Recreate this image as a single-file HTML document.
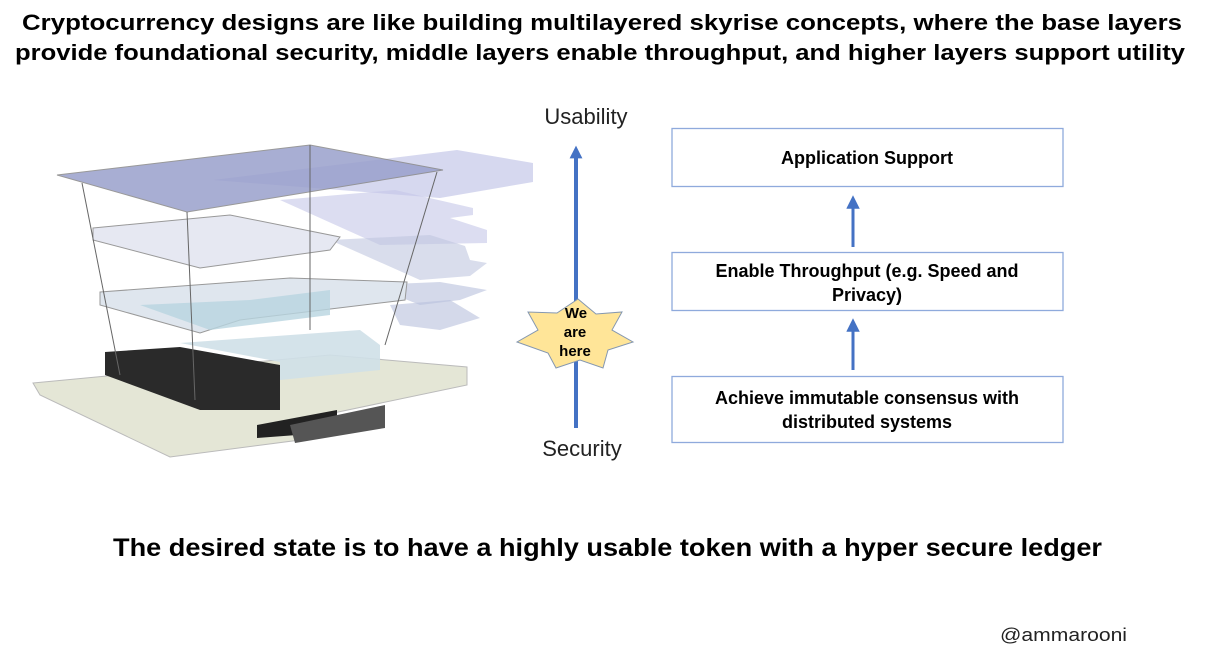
<!DOCTYPE html>
<html><head><meta charset="utf-8"><style>html,body{margin:0;padding:0;background:#fff}svg{display:block}</style></head>
<body>
<svg width="1210" height="660" xmlns="http://www.w3.org/2000/svg" font-family="Liberation Sans, sans-serif">
<defs>
<marker id="ah" viewBox="0 0 10 10" refX="5" refY="5" markerWidth="3.6" markerHeight="3.2" orient="auto"><path d="M0,0 L10,5 L0,10 z" fill="#4472c4"/></marker>
<marker id="ah2" viewBox="0 0 10 10" refX="5" refY="5" markerWidth="5" markerHeight="4.5" orient="auto"><path d="M0,0 L10,5 L0,10 z" fill="#4472c4"/></marker>
</defs>
<g font-weight="bold" font-size="22" fill="#000">
<text x="22" y="30" textLength="1160" lengthAdjust="spacingAndGlyphs">Cryptocurrency designs are like building multilayered skyrise concepts, where the base layers</text>
<text x="15" y="60" textLength="1170" lengthAdjust="spacingAndGlyphs">provide foundational security, middle layers enable throughput, and higher layers support utility</text>
<text x="113" y="556" font-size="25" textLength="989" lengthAdjust="spacingAndGlyphs">The desired state is to have a highly usable token with a hyper secure ledger</text>
</g>
<text x="1000" y="641" font-size="18" fill="#222" textLength="127" lengthAdjust="spacingAndGlyphs">@ammarooni</text>

<!-- building -->
<g>
<polygon points="213,180 457,150 533,163 533,182 440,198" fill="#c4c7e8" opacity="0.7"/>
<polygon points="280,200 395,190 473,208 473,215 450,218 487,230 487,243 380,245" fill="#c4c7e8" opacity="0.6"/>
<polygon points="330,240 430,235 465,246 470,260 487,263 470,276 420,280" fill="#c0c6e0" opacity="0.6"/>
<polygon points="370,285 440,282 487,290 460,300 420,305" fill="#b8c0dc" opacity="0.6"/>
<polygon points="390,305 450,300 480,318 440,330 400,325" fill="#b8c0dc" opacity="0.6"/>
<polygon points="33,383 330,355 467,367 467,385 300,420 300,440 170,457 40,395" fill="#e4e6d6" stroke="#bbb"/>
<polygon points="100,292 290,278 407,282 405,300 240,320 200,333 100,305" fill="#dfe6ee" stroke="#999"/>
<polygon points="140,305 250,300 330,290 330,315 210,330" fill="#b8d4e0" opacity="0.8"/>
<polygon points="93,228 230,215 340,237 330,250 200,268 93,240" fill="#e6e8f2" stroke="#999"/>
<polygon points="105,352 180,347 280,365 280,410 200,410 105,375" fill="#2a2a2a"/>
<polygon points="180,343 360,330 380,345 380,370 280,380 280,362" fill="#cfe0e8" opacity="0.9"/>
<polygon points="257,425 337,410 337,432 257,438" fill="#222"/>
<polygon points="290,425 385,405 385,428 295,443" fill="#555"/>
<polygon points="57,175 310,145 443,170 187,212" fill="#9aa0cc" opacity="0.85" stroke="#888"/>
<polyline points="82,183 120,375" fill="none" stroke="#666" stroke-width="1"/>
<polyline points="310,145 310,330" fill="none" stroke="#666" stroke-width="1"/>
<polyline points="437,172 385,345" fill="none" stroke="#666" stroke-width="1"/>
<polyline points="187,212 195,400" fill="none" stroke="#666" stroke-width="1"/>
</g>

<!-- axis arrow -->
<line x1="576" y1="428" x2="576" y2="152" stroke="#4472c4" stroke-width="4" marker-end="url(#ah)"/>
<text x="586" y="124" font-size="22" text-anchor="middle" fill="#222">Usability</text>
<text x="582" y="456" font-size="22" text-anchor="middle" fill="#222">Security</text>
<polygon points="578,299 596,314 622,312 612,330 633,342 608,350 603,368 580,360 556,368 548,353 517,342 538,330 528,312 557,313" fill="#ffe598" stroke="#8497b0" stroke-width="1"/>
<g font-weight="bold" font-size="15" text-anchor="middle" fill="#000">
<text x="576" y="318">We</text><text x="575" y="337">are</text><text x="575" y="356">here</text>
</g>

<!-- boxes -->
<g fill="#fff" stroke="#8faadc" stroke-width="1.3">
<rect x="672" y="128.5" width="391" height="58"/>
<rect x="672" y="252.5" width="391" height="58"/>
<rect x="672" y="376.5" width="391" height="66"/>
</g>
<g font-weight="bold" font-size="18" text-anchor="middle" fill="#000">
<text x="867" y="164">Application Support</text>
<text x="867" y="277">Enable Throughput (e.g. Speed and</text>
<text x="867" y="301">Privacy)</text>
<text x="867" y="404">Achieve immutable consensus with</text>
<text x="867" y="428">distributed systems</text>
</g>
<line x1="853" y1="247" x2="853" y2="202" stroke="#4472c4" stroke-width="3" marker-end="url(#ah2)"/>
<line x1="853" y1="370" x2="853" y2="325" stroke="#4472c4" stroke-width="3" marker-end="url(#ah2)"/>
</svg>
</body></html>
